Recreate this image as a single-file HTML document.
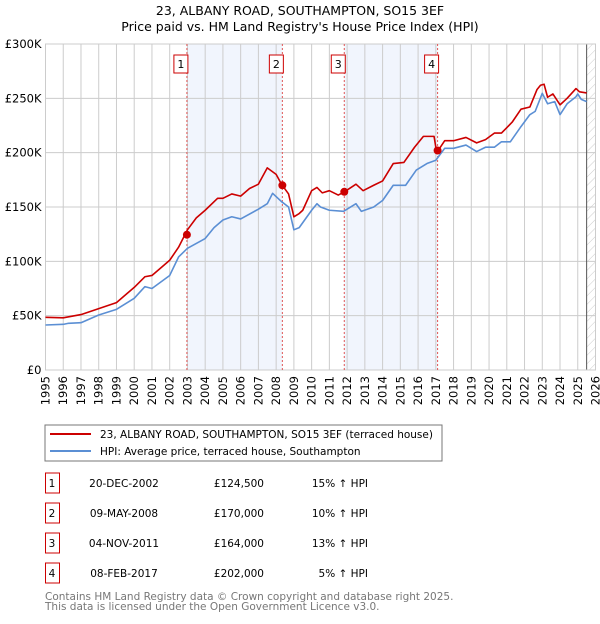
<!DOCTYPE html>
<html><head><meta charset="utf-8"><style>
body{margin:0;width:600px;height:620px;background:#fff;font-family:"DejaVu Sans","Liberation Sans",sans-serif;}
svg text{font-family:"DejaVu Sans","Liberation Sans",sans-serif;}
</style></head><body>
<svg id="chart" width="600" height="620">
<text x="300" y="15" text-anchor="middle" font-size="12.5">23, ALBANY ROAD, SOUTHAMPTON, SO15 3EF</text>
<text x="300" y="31" text-anchor="middle" font-size="12.5">Price paid vs. HM Land Registry's House Price Index (HPI)</text>
<g id="plot"></g>
<rect x="45" y="425" width="397" height="36" fill="#fff" stroke="#777"/>
<line x1="50" y1="434" x2="91" y2="434" stroke="#cc0000" stroke-width="2"/>
<text x="100" y="438" font-size="10.5">23, ALBANY ROAD, SOUTHAMPTON, SO15 3EF (terraced house)</text>
<line x1="50" y1="451" x2="91" y2="451" stroke="#5b8fd4" stroke-width="2"/>
<text x="100" y="455" font-size="10.5">HPI: Average price, terraced house, Southampton</text>
<g id="table" font-size="10.5"></g>
<text x="45" y="600" font-size="10.5" fill="#777">Contains HM Land Registry data © Crown copyright and database right 2025.</text>
<text x="45" y="610" font-size="10.5" fill="#777">This data is licensed under the Open Government Licence v3.0.</text>
</svg>
<script>
const hpiYears=[1995,1996,1996.3,1997,1998,1999,2000,2000.6,2001,2002,2002.5,2003,2004,2004.5,2005,2005.5,2006,2007,2007.5,2007.8,2008.3,2008.7,2009,2009.3,2010,2010.3,2010.5,2011,2011.8,2012.5,2012.8,2013.5,2014,2014.6,2015.3,2015.9,2016.5,2017,2017.5,2018,2018.7,2019.3,2019.8,2020.3,2020.7,2021.2,2021.8,2022.3,2022.6,2023,2023.3,2023.7,2024,2024.4,2024.9,2025,2025.2,2025.5];
const hpiValues=[41.4,42,43,43.5,50.6,55.8,66,76.7,75,87,104,112,121,131,138,141,139,148,153,162.6,155,150,129,131,147,153,150,147,146,153,146,150,156,170,170,184,190,193,204,204,207,201,205,205,210,210,224,235,238,254.6,245,247,235,245,251.5,254,249,247];
const propYears=[1995,1996,1997,1998,1999,2000,2000.6,2001,2002,2002.5,2003,2003.5,2004,2004.7,2005,2005.5,2006,2006.5,2007,2007.5,2008,2008.3,2008.7,2009,2009.3,2009.5,2010,2010.3,2010.6,2011,2011.5,2011.85,2012.5,2012.9,2013.5,2014,2014.6,2015.2,2015.8,2016.3,2016.9,2017.05,2017.5,2018,2018.7,2019.3,2019.8,2020.3,2020.7,2021.3,2021.8,2022.3,2022.7,2022.9,2023.1,2023.3,2023.6,2024,2024.4,2024.9,2025.1,2025.5];
const propValues=[48.5,48,51,56.5,62,76,85.8,87,101,113,129,140,147,158,158,162,160,167,171,186,180,171,162,141,144,147,165,168,163,165,161,164,171,165,170,174,190,191,205,215,215,200,211,211,214,209,212,218,218,228,240,242,258,262,263,251,254,244,250,259,256,255];
const saleYears=[2002.97,2008.35,2011.84,2017.1];
const saleValues=[124.5,170,164,202];
const saleLabels=["1","2","3","4"];
const saleDates=["20-DEC-2002","09-MAY-2008","04-NOV-2011","08-FEB-2017"];
const salePrices=["£124,500","£170,000","£164,000","£202,000"];
const saleDiffs=["15% ↑ HPI","10% ↑ HPI","13% ↑ HPI","5% ↑ HPI"];
const yTicks=[0,50,100,150,200,250,300];
const yTickLabels=["£0","£50K","£100K","£150K","£200K","£250K","£300K"];
const xTicks=[1995,1996,1997,1998,1999,2000,2001,2002,2003,2004,2005,2006,2007,2008,2009,2010,2011,2012,2013,2014,2015,2016,2017,2018,2019,2020,2021,2022,2023,2024,2025,2026];

const L=45.5,R=595.5,T=44,B=370;
const X=y=>L+(y-1995)*(R-L)/31;
const Y=v=>B-v*(B-T)/300;
const NS="http://www.w3.org/2000/svg";
const plot=document.getElementById('plot');
function mk(tag,attrs,parent){const e=document.createElementNS(NS,tag);for(const k in attrs)e.setAttribute(k,attrs[k]);(parent||plot).appendChild(e);return e;}
// shading
for(let i=0;i<saleYears.length;i+=2){
 const r=mk('rect',{x:X(saleYears[i]),y:T,width:X(saleYears[i+1])-X(saleYears[i]),height:B-T,fill:'#eef3fc',opacity:0.8});
 
 
}
// hatch
const defs=mk('defs',{});
const pat=mk('pattern',{id:'hatch',width:6,height:6,patternUnits:'userSpaceOnUse',patternTransform:'rotate(45)'},defs);
mk('line',{x1:0,y1:0,x2:0,y2:6,stroke:'#ccc','stroke-width':1},pat);
const hr=mk('rect',{x:X(2025.5),y:T,width:R-X(2025.5),height:B-T,fill:'url(#hatch)'});


// grid
yTicks.forEach((v,i)=>{
 const g=mk('line',{x1:L,x2:R,y1:Y(v),y2:Y(v),stroke:'#ccc','stroke-width':1});
 
 
 const t=mk('text',{x:L-4,y:Y(v)+4,'text-anchor':'end','font-size':'11.5'});
 t.textContent=yTickLabels[i];
 
 
});
xTicks.forEach(y=>{
 const g=mk('line',{x1:X(y),x2:X(y),y1:T,y2:B,stroke:'#ccc','stroke-width':1});
 
 
 const t=mk('text',{x:0,y:0,'font-size':'11.5','text-anchor':'end',transform:`translate(${X(y)+4},${B+6}) rotate(-90)`});
 t.textContent=y;
 
 
});
mk('line',{x1:X(2025.5),x2:X(2025.5),y1:T,y2:B,stroke:'#555','stroke-width':1});
mk('rect',{x:L,y:T,width:R-L,height:B-T,fill:'none',stroke:'#ccc'});
// sale lines
saleYears.forEach((y,i)=>{
 const l=mk('line',{x1:X(y),x2:X(y),y1:T,y2:B,stroke:'#e05555','stroke-width':1,'stroke-dasharray':'2,2'});
 
 
 const bx=mk('rect',{x:X(y)-13,y:55,width:14,height:18,fill:'#fff',stroke:'#cc0000'});
 
 
 const t=mk('text',{x:X(y)-6,y:68,'text-anchor':'middle','font-size':'11'});
 t.textContent=saleLabels[i];
 
 
});
function line(xs,vs,color,name){
 const p=mk('polyline',{points:xs.map((x,i)=>X(x)+','+Y(vs[i])).join(' '),fill:'none',stroke:color,'stroke-width':1.6,'stroke-linejoin':'round'});
 
 
}
line(hpiYears,hpiValues,'#5b8fd4','hpi-line');
line(propYears,propValues,'#cc0000','property-line');
saleYears.forEach((y,i)=>{
 const c=mk('circle',{cx:X(y),cy:Y(saleValues[i]),r:4,fill:'#cc0000'});
 
 
});
// table
const tb=document.getElementById('table');
saleYears.forEach((y,i)=>{
 const cy=483+i*30;
 const b=mk('rect',{x:45.5,y:cy-10,width:14,height:20,fill:'#fff',stroke:'#cc0000'},tb);
 
 
 const cells=[[saleLabels[i],52,'middle'],[saleDates[i],124,'middle'],[salePrices[i],264,'end'],[saleDiffs[i],368,'end']];
 cells.forEach(c=>{
  const t=mk('text',{x:c[1],y:cy+4,'text-anchor':c[2]},tb);
  t.textContent=c[0];
  
  
 });
});
</script>
</body></html>
